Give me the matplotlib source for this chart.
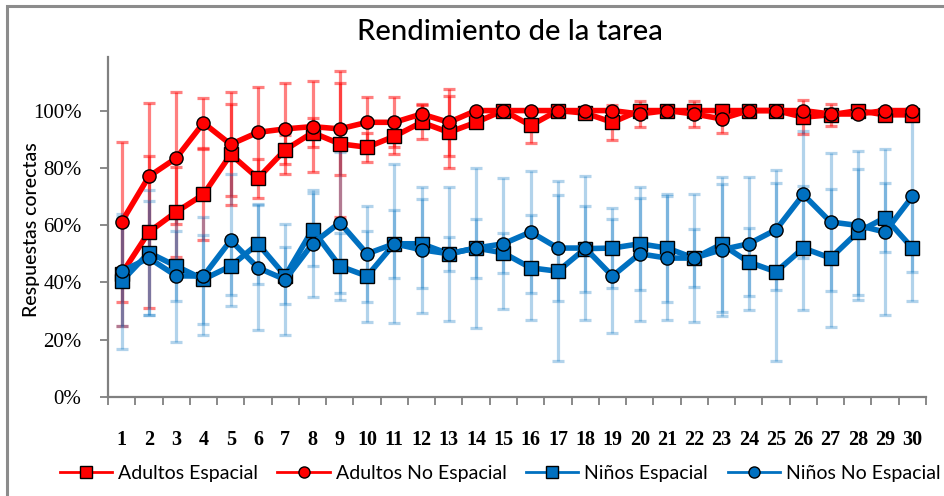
import matplotlib
matplotlib.use("Agg")
import matplotlib.pyplot as plt
import matplotlib.patches as patches
from matplotlib.ticker import FuncFormatter
import numpy as np

# intentos 1..30
trials = list(range(1, 31))

adultos_esp = [43, 57.6, 64.6, 70.7, 84.7, 76.4, 86.3, 92.3, 88.4, 87.2,
               91.0, 95.9, 92.4, 95.9, 100, 94.8, 100, 99.1, 95.9, 100,
               100, 100, 100, 100, 100, 97.7, 98.5, 100, 98.5, 98.5]
adultos_esp_err = [18.3, 26.4, 15.6, 15.8, 17.6, 6.8, 5, 5, 25.5, 5,
                   6.1, 6, 12.6, 0, 0, 6.2, 0, 0, 6.2, 0,
                   0, 0, 0, 0, 0, 6, 3.8, 0, 0, 0]

adultos_noesp = [61.1, 77.0, 83.4, 95.7, 88.2, 92.4, 93.6, 94.4, 93.6, 95.9,
                 95.9, 98.8, 95.9, 100, 100, 100, 100, 100, 100, 98.8,
                 100, 98.8, 97.1, 100, 100, 100, 98.8, 98.8, 100, 100]
adultos_noesp_err = [28, 25.6, 23, 8.7, 18.2, 15.7, 15.9, 16, 16, 8.7,
                     8.7, 3.5, 11.7, 0, 0, 0, 0, 0, 0, 4.4,
                     0, 4.4, 5, 0, 0, 0, 0, 0, 0, 0]

ninos_esp = [40.4, 50.4, 45.7, 41.1, 45.7, 53.5, 42.3, 58.4, 45.7, 42.2,
             53.5, 53.5, 50.0, 52.0, 50.3, 45.1, 43.9, 51.8, 52.0, 53.5,
             52.0, 48.5, 53.3, 47.1, 43.7, 52.0, 48.5, 57.6, 62.6, 52.0]
ninos_esp_err = [23.5, 21.8, 12.2, 15.6, 10, 14, 10, 12.7, 11.7, 15.9,
                 11.8, 15.5, 6, 10.3, 7, 18.3, 31.5, 15, 14, 16,
                 18.7, 22.4, 23.5, 12, 31, 21.5, 24, 22, 12, 18.6]

ninos_noesp = [43.9, 48.5, 42.3, 42.2, 54.7, 45.1, 41.0, 53.5, 60.9, 50.0,
               53.5, 51.4, 50.0, 52.0, 53.5, 57.6, 52.0, 52.0, 42.2, 50.0,
               48.5, 48.5, 51.4, 53.5, 58.4, 70.7, 61.1, 59.9, 57.6, 70.0]
ninos_noesp_err = [19, 20, 23, 20.5, 23, 21.8, 19.5, 18.6, 24.6, 16.7,
                   27.7, 22, 23.4, 28, 22.8, 21.3, 18.5, 25, 19.8, 23.4,
                   21.5, 10, 23, 23.3, 21, 22, 24, 26, 29, 26.5]

RED = "#FF0000"
BLUE = "#0070C0"

series = [
    ("Adultos Espacial", adultos_esp, adultos_esp_err, RED, "s", 0.5),
    ("Adultos No Espacial", adultos_noesp, adultos_noesp_err, RED, "o", 0.5),
    ("Niños Espacial", ninos_esp, ninos_esp_err, BLUE, "s", 0.3),
    ("Niños No Espacial", ninos_noesp, ninos_noesp_err, BLUE, "o", 0.3),
]

fig = plt.figure(figsize=(9.44, 4.96), dpi=100)
ax = fig.add_axes([108 / 944, 99 / 496, 818 / 944, 340 / 496])

# barras de error primero, debajo de las lineas
for name, vals, err, col, mk, a in series:
    eb = ax.errorbar(trials, vals, yerr=err, fmt="none", ecolor=col,
                     elinewidth=2.3, capsize=4.5, capthick=2.3, zorder=1)
    for part in eb.lines[1]:
        part.set_alpha(a)
    for part in eb.lines[2]:
        part.set_alpha(a)

for i, (name, vals, err, col, mk, a) in enumerate(series):
    ax.plot(trials, vals, color=col, lw=4, marker=mk, markersize=9.5,
            markerfacecolor=col, markeredgecolor="black",
            markeredgewidth=1.0, zorder=3 + i, label=name)

ax.set_xlim(0.5, 30.5)
ax.set_ylim(0, 118.7)
ax.set_yticks([0, 20, 40, 60, 80, 100])
ax.yaxis.set_major_formatter(FuncFormatter(lambda v, p: "%d%%" % v))
ax.set_xticks(np.arange(0.5, 31, 1))
ax.set_xticklabels([])
ax.set_xticks(trials, minor=True)
ax.set_xticklabels([str(t) for t in trials], minor=True,
                   family="Liberation Serif", fontweight="bold", fontsize=14.5)
ax.tick_params(axis="x", which="minor", length=0, pad=24)
ax.tick_params(axis="x", which="major", length=6, width=1.3,
               color="#808080", direction="out")
ax.tick_params(axis="y", length=6, width=1.3, color="#808080", pad=13,
               labelsize=15)
for lab in ax.get_yticklabels():
    lab.set_family("Liberation Serif")

for s in ["top", "right"]:
    ax.spines[s].set_visible(False)
for s in ["left", "bottom"]:
    ax.spines[s].set_color("#808080")
    ax.spines[s].set_linewidth(1.6)

ax.set_ylabel("Respuestas corectas", family="Lato", fontsize=14,
              fontweight="medium")
ax.yaxis.set_label_coords((40 - 108) / 818, (397 - 230) / 340)
fig.text(510 / 944, 1 - 32 / 496, "Rendimiento de la tarea", family="Lato",
         fontsize=21, fontweight="medium", ha="center", va="center")

leg_handles = []
for name, vals, err, col, mk, a in series:
    leg_handles.append(plt.Line2D([], [], color=col, lw=2, marker=mk,
                                  markersize=8, markerfacecolor=col,
                                  markeredgecolor="black", label=name))
fig.legend(handles=leg_handles, loc="center", ncol=4, frameon=False,
           bbox_to_anchor=(500 / 944, 1 - 473 / 496), handlelength=2.7,
           handletextpad=0.3, columnspacing=1.0,
           prop={"family": "Lato", "size": 14})

# borde del grafico
fig.add_artist(patches.Rectangle((7 / 944, -0.1), 1.2, 1 - 6 / 496 + 0.1,
                                 transform=fig.transFigure, fill=False,
                                 edgecolor="#8c8c8c", lw=2.2))

fig.savefig("out.png", dpi=100)
